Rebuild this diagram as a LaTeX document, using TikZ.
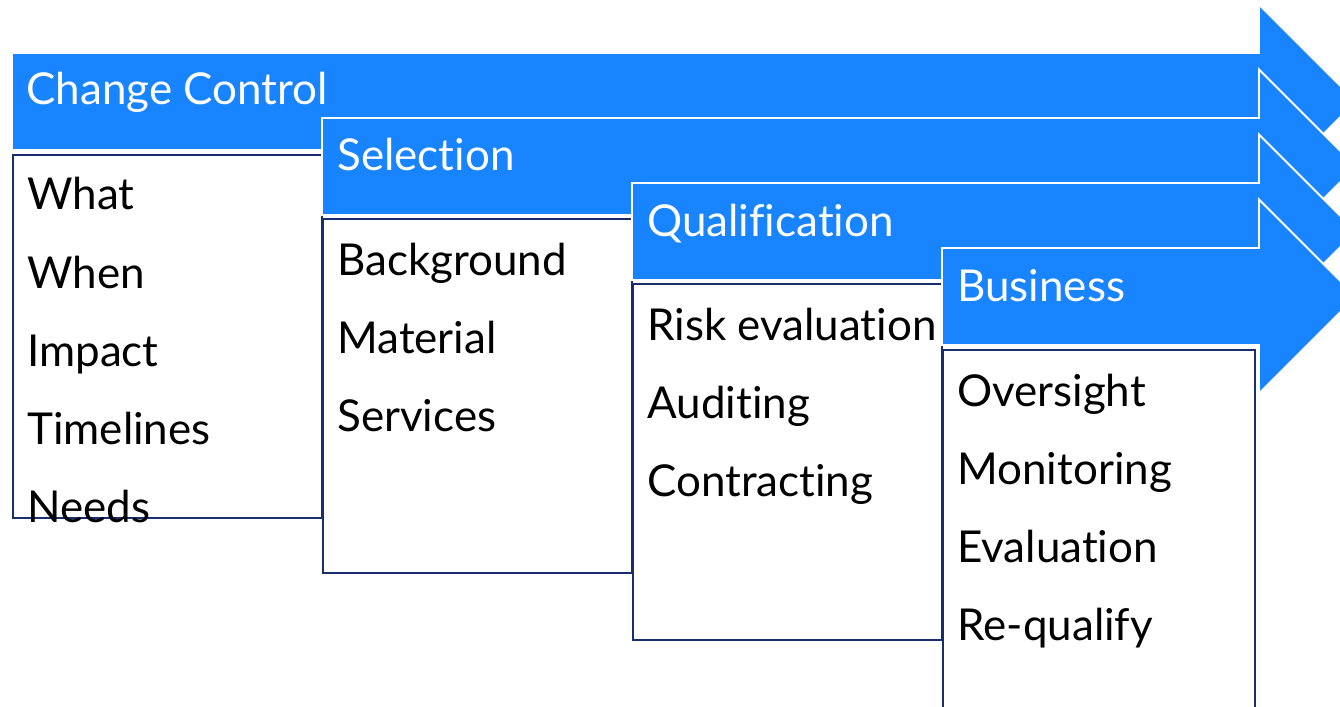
\documentclass[tikz,border=0pt]{standalone}
\usepackage{fontspec}
\setmainfont{Lato}[Ligatures={NoCommon,NoRequired,NoContextual}]
\usepackage{tikz}
\usetikzlibrary{positioning}
\definecolor{stageblue}{RGB}{24,132,255}
\definecolor{boxnavy}{RGB}{24,46,110}

\begin{document}
\begin{tikzpicture}[stage/.style={fill=stageblue, draw=white, line width=1.1pt}, listbox/.style={draw=boxnavy, line width=1.1pt, fill=white, anchor=north west, inner sep=0pt}, head/.style={anchor=base west, inner sep=0pt, text=white, font=\fontsize{25}{30}\selectfont}, item/.style={anchor=base west, inner sep=0pt, text=black, font=\fontsize{25}{30}\selectfont}]
		\clip (0,0) rectangle (26.8,-14.12);
		\fill[white] (0,0) rectangle (26.8,-14.12);
		
		\filldraw[stage] (0.24,-1.06) -- (25.18,-1.06) -- (25.18,-0.09) -- (27.12,-2.03) -- (25.18,-3.97) -- (25.18,-3.00) -- (0.24,-3.00) -- cycle;
		\node[head](changecontrol) at (0.52,-2.10) {Change Control};
		\node[listbox, minimum width=6.18cm, minimum height=7.26cm](box1) at (0.24,-3.08) {};
		\node[item](what) at (0.54,-4.20) {What};
		\node[item](when) at (0.54,-5.76) {When};
		\node[item](impact) at (0.54,-7.32) {Impact};
		\node[item](timelines) at (0.54,-8.88) {Timelines};
		\node[item](needs) at (0.54,-10.44) {Needs};
		
		\filldraw[stage] (6.44,-2.36) -- (25.18,-2.36) -- (25.18,-1.39) -- (27.12,-3.33) -- (25.18,-5.27) -- (25.18,-4.30) -- (6.44,-4.30) -- cycle;
		\node[head](selection) at (6.74,-3.42) {Selection};
		\node[listbox, minimum width=6.18cm, minimum height=7.08cm](box2) at (6.44,-4.36) {};
		\node[item](background) at (6.74,-5.50) {Background};
		\node[item](material) at (6.74,-7.06) {Material};
		\node[item](services) at (6.74,-8.62) {Services};
		
		\filldraw[stage] (12.64,-3.66) -- (25.18,-3.66) -- (25.18,-2.69) -- (27.12,-4.63) -- (25.18,-6.57) -- (25.18,-5.60) -- (12.64,-5.60) -- cycle;
		\node[head](qualification) at (12.94,-4.72) {Qualification};
		\node[listbox, minimum width=6.18cm, minimum height=7.12cm](box3) at (12.64,-5.66) {};
		\node[item](risk) at (12.94,-6.80) {Risk evaluation};
		\node[item](auditing) at (12.94,-8.36) {Auditing};
		\node[item](contracting) at (12.94,-9.92) {Contracting};
		
		\filldraw[stage] (18.84,-4.96) -- (25.18,-4.96) -- (25.18,-3.99) -- (27.12,-5.93) -- (25.18,-7.87) -- (25.18,-6.90) -- (18.84,-6.90) -- cycle;
		\node[head](business) at (19.14,-6.02) {Business};
		\node[listbox, minimum width=6.24cm, minimum height=7.60cm](box4) at (18.84,-6.98) {};
		\node[item](oversight) at (19.14,-8.12) {Oversight};
		\node[item](monitoring) at (19.14,-9.68) {Monitoring};
		\node[item](evaluation) at (19.14,-11.24) {Evaluation};
		\node[item](requalify) at (19.14,-12.80) {Re-qualify};
		\end{tikzpicture}
\end{document}
